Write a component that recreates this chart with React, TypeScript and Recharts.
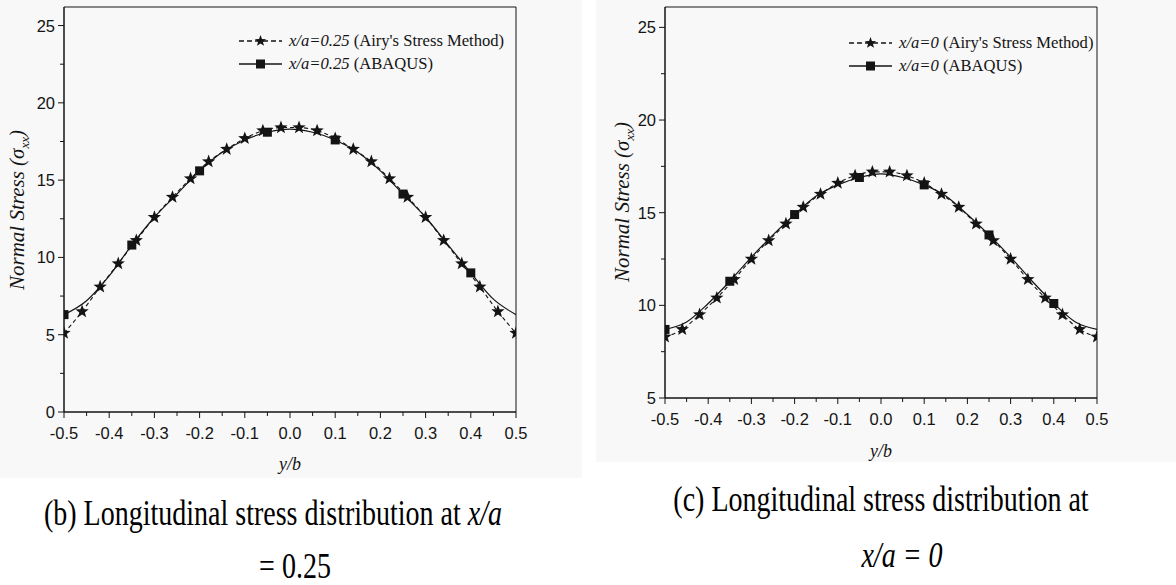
import React from 'react';
import { ComposedChart, Line, XAxis, YAxis, ReferenceArea, Legend } from 'recharts';

// y/b positions of the Airy's stress method points (stars)
const airyPos = [-0.5, -0.46, -0.42, -0.38, -0.34, -0.3, -0.26, -0.22, -0.18, -0.14, -0.1, -0.06, -0.02,
  0.02, 0.06, 0.1, 0.14, 0.18, 0.22, 0.26, 0.3, 0.34, 0.38, 0.42, 0.46, 0.5];
// y/b positions of the ABAQUS curve
const abaqusPos = [-0.5, -0.45, -0.4, -0.35, -0.3, -0.25, -0.2, -0.15, -0.1, -0.05, 0,
  0.05, 0.1, 0.15, 0.2, 0.25, 0.3, 0.35, 0.4, 0.45, 0.5];

// (b) x/a = 0.25
const airyB = [5.1, 6.5, 8.1, 9.6, 11.1, 12.6, 13.9, 15.1, 16.2, 17.0, 17.7, 18.2, 18.4,
  18.4, 18.2, 17.7, 17.0, 16.2, 15.1, 13.9, 12.6, 11.1, 9.6, 8.1, 6.5, 5.1];
const abaqusB = [6.3, 7.2, 8.8, 10.8, 12.6, 14.1, 15.6, 16.8, 17.6, 18.1, 18.3,
  18.1, 17.6, 16.8, 15.6, 14.1, 12.6, 10.8, 9.0, 7.3, 6.3];

// (c) x/a = 0
const airyC = [8.3, 8.7, 9.5, 10.4, 11.4, 12.5, 13.5, 14.4, 15.3, 16.0, 16.6, 17.0, 17.2,
  17.2, 17.0, 16.6, 16.0, 15.3, 14.4, 13.5, 12.5, 11.4, 10.4, 9.5, 8.7, 8.3];
const abaqusC = [8.7, 9.1, 10.1, 11.3, 12.6, 13.8, 14.9, 15.9, 16.5, 16.9, 17.1,
  16.9, 16.5, 15.9, 14.9, 13.8, 12.6, 11.3, 10.1, 9.1, 8.7];

const xTicks = [-0.5, -0.45, -0.4, -0.35, -0.3, -0.25, -0.2, -0.15, -0.1, -0.05, 0,
  0.05, 0.1, 0.15, 0.2, 0.25, 0.3, 0.35, 0.4, 0.45, 0.5];
const yTicksB = [0, 2.5, 5, 7.5, 10, 12.5, 15, 17.5, 20, 22.5, 25];
const yTicksC = [5, 7.5, 10, 12.5, 15, 17.5, 20, 22.5, 25];

const seriesB = ["x/a=0.25 (Airy's Stress Method)", 'x/a=0.25 (ABAQUS)'];
const seriesC = ["x/a=0 (Airy's Stress Method)", 'x/a=0 (ΑΒΑQUS)'];

const INK = '#141414';
const SANS = '"Liberation Sans", Arial, sans-serif';
const SERIF = '"Liberation Serif", "Times New Roman", serif';

const starPath = (cx: number, cy: number, R: number, r: number) => {
  let d = '';
  for (let k = 0; k < 10; k++) {
    const rad = k % 2 === 0 ? R : r;
    const a = -Math.PI / 2 + (k * Math.PI) / 5;
    d += (k === 0 ? 'M' : 'L') + (cx + rad * Math.cos(a)).toFixed(2) + ' ' + (cy + rad * Math.sin(a)).toFixed(2);
  }
  return d + 'Z';
};

const StarDot = (p: any) => <path key={`s-${p.index}`} d={starPath(p.cx, p.cy, 7, 2.9)} fill={INK} />;
const SquareDot = (p: any) =>
  p.index % 3 === 0 ? (
    <rect key={`q-${p.index}`} x={p.cx - 4.5} y={p.cy - 4.5} width={9} height={9} fill={INK} />
  ) : (
    <g key={`q-${p.index}`} />
  );

const isMajor = (v: number, step: number) => Math.abs(Math.round(v / step) * step - v) < 1e-6;

const XTick = (props: any) => {
  const { x, y, payload } = props;
  const major = isMajor(payload.value, 0.1);
  return (
    <g>
      <line x1={x} y1={y} x2={x} y2={y + (major ? 6 : 4)} stroke={INK} />
      {major && (
        <text x={x} y={y + 27} textAnchor="middle" fontFamily={SANS} fontSize={16.5} fill={INK}>
          {payload.value.toFixed(1)}
        </text>
      )}
    </g>
  );
};

const YTick = (props: any) => {
  const { x, y, payload } = props;
  const major = isMajor(payload.value, 5);
  return (
    <g>
      <line x1={x} y1={y} x2={x - (major ? 6 : 4)} y2={y} stroke={INK} />
      {major && (
        <text x={x - 9} y={y + 6} textAnchor="end" fontFamily={SANS} fontSize={16.5} fill={INK}>
          {payload.value}
        </text>
      )}
    </g>
  );
};

const LegendBox = ({ names }: { names: string[] }) => (
  <div style={{ fontFamily: SERIF, fontSize: 16.6, color: INK, lineHeight: '23px', whiteSpace: 'nowrap' }}>
    {names.map((name, i) => {
      const cut = name.indexOf(' ');
      const dashed = i === 0;
      return (
        <div key={i} style={{ display: 'flex', alignItems: 'center' }}>
          <svg width={45} height={14} style={{ marginRight: 6 }}>
            <line x1={1} y1={7} x2={44} y2={7} stroke={INK} strokeWidth={1.3} strokeDasharray={dashed ? '5 3' : undefined} />
            {dashed ? <path d={starPath(22.5, 7, 6, 2.5)} fill={INK} /> : <rect x={18} y={2.5} width={9} height={9} fill={INK} />}
          </svg>
          <span>
            <i>{name.slice(0, cut)}</i>
            {name.slice(cut)}
          </span>
        </div>
      );
    })}
  </div>
);

interface PanelProps {
  airy: number[];
  abaqus: number[];
  names: string[];
  yTicks: number[];
  yMin: number;
  yMax: number;
  width: number;
  height: number;
  left: number;
  axisWidth: number;
  legendLeft: number;
  legendTop: number;
}

const Panel = ({ airy, abaqus, names, yTicks, yMin, yMax, width, height, left, axisWidth, legendLeft, legendTop }: PanelProps) => {
  const airyRows = airyPos.map((y, i) => ({ y, s: airy[i] }));
  const abaqusRows = abaqusPos.map((y, i) => ({ y, s: abaqus[i] }));
  return (
    <div style={{ position: 'absolute', left, top: 0 }}>
      <ComposedChart width={width} height={height} margin={{ top: 7, right: 16, left: 0, bottom: 0 }}>
        <XAxis
          dataKey="y"
          type="number"
          domain={[-0.5, 0.5]}
          ticks={xTicks}
          interval={0}
          allowDataOverflow
          height={38}
          tickSize={0}
          tickMargin={0}
          tickLine={false}
          tick={<XTick />}
          axisLine={{ stroke: INK }}
        />
        <YAxis
          type="number"
          domain={[yMin, yMax]}
          ticks={yTicks}
          interval={0}
          allowDataOverflow
          width={axisWidth}
          tickSize={0}
          tickMargin={0}
          tickLine={false}
          tick={<YTick />}
          axisLine={{ stroke: INK }}
        />
        <ReferenceArea x1={-0.5} x2={0.5} y1={yMin} y2={yMax} fill="none" stroke={INK} strokeWidth={1} />
        <Line
          data={abaqusRows}
          dataKey="s"
          name={names[1]}
          type="monotone"
          stroke={INK}
          strokeWidth={1.2}
          dot={SquareDot}
          activeDot={false}
          isAnimationActive={false}
        />
        <Line
          data={airyRows}
          dataKey="s"
          name={names[0]}
          type="monotone"
          stroke={INK}
          strokeWidth={1.1}
          strokeDasharray="4 3"
          dot={StarDot}
          activeDot={false}
          isAnimationActive={false}
        />
        <Legend
          layout="vertical"
          align="center"
          verticalAlign="middle"
          content={() => <LegendBox names={names} />}
          wrapperStyle={{ left: legendLeft, top: legendTop, width: 'auto' }}
        />
      </ComposedChart>
    </div>
  );
};

const YTitle = ({ x, y }: { x: number; y: number }) => (
  <div
    style={{
      position: 'absolute',
      left: x,
      top: y,
      transform: 'translate(-50%, -50%) rotate(-90deg)',
      fontFamily: SERIF,
      fontSize: 21,
      fontStyle: 'italic',
      whiteSpace: 'nowrap',
      color: INK,
    }}
  >
    Normal Stress (<span>σ<sub style={{ fontSize: 13 }}>xx</sub></span>)
  </div>
);

const Caption = ({ x, y, children }: { x: number; y: number; children: React.ReactNode }) => (
  <div
    style={{
      position: 'absolute',
      left: x,
      top: y,
      transform: 'translate(-50%, -50%) scale(1, 1.25)',
      fontFamily: SERIF,
      fontSize: 28,
      whiteSpace: 'nowrap',
      color: '#000',
    }}
  >
    {children}
  </div>
);

const AxisTitle = ({ x, y }: { x: number; y: number }) => (
  <div
    style={{
      position: 'absolute',
      left: x,
      top: y,
      transform: 'translate(-50%, -50%)',
      fontFamily: SERIF,
      fontStyle: 'italic',
      fontSize: 18,
      color: INK,
    }}
  >
    y/b
  </div>
);

export default function App() {
  return (
    <div style={{ position: 'absolute', left: 0, top: 0, width: 1176, height: 585, background: '#fff', overflow: 'hidden' }}>
      <div style={{ position: 'absolute', left: 0, top: 0, width: 582, height: 478, background: '#f8f8f8' }} />
      <div style={{ position: 'absolute', left: 596, top: 0, width: 580, height: 462, background: '#f8f8f8' }} />
      <Panel
        airy={airyB}
        abaqus={abaqusB}
        names={seriesB}
        yTicks={yTicksB}
        yMin={0}
        yMax={26.2}
        width={532}
        height={450}
        left={0}
        axisWidth={64}
        legendLeft={238}
        legendTop={29}
      />
      <Panel
        airy={airyC}
        abaqus={abaqusC}
        names={seriesC}
        yTicks={yTicksC}
        yMin={5}
        yMax={26.1}
        width={513}
        height={436}
        left={600}
        axisWidth={65}
        legendLeft={248}
        legendTop={31}
      />
      <YTitle x={19} y={210} />
      <YTitle x={624} y={202} />
      <AxisTitle x={290} y={464} />
      <AxisTitle x={881} y={451} />
      <Caption x={273} y={514}>
        (b) Longitudinal stress distribution at <i>x/a</i>
      </Caption>
      <Caption x={295} y={567}>= 0.25</Caption>
      <Caption x={881} y={500}>(c) Longitudinal stress distribution at</Caption>
      <Caption x={902} y={556}>
        <i>x/a = 0</i>
      </Caption>
    </div>
  );
}
